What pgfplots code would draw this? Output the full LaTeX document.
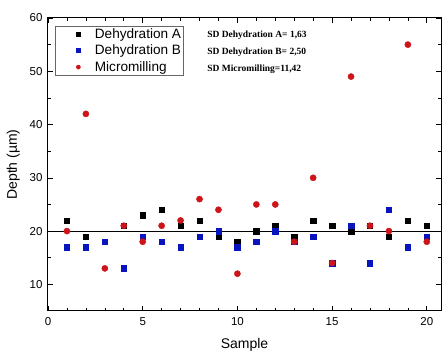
\documentclass[border=0pt]{standalone}
\usepackage{fontspec}
\setmainfont{Liberation Sans}
\newfontfamily\timesfont{Liberation Serif}
\usepackage{pgfplots}
\pgfplotsset{compat=1.18}
\definecolor{dblue}{RGB}{10,20,190}
\definecolor{dred}{RGB}{205,20,25}
\begin{document}
\begin{tikzpicture}
\begin{axis}[
  scale only axis,
  width=393pt, height=293pt,
  xmin=0, xmax=20.75, ymin=5, ymax=60,
  xtick={0,5,10,15,20}, ytick={10,20,30,40,50,60},
  minor x tick num=4, minor y tick num=1,
  tick align=inside, tick pos=both,
  major tick length=5pt, minor tick length=3pt,
  every tick/.style={black, line width=0.6pt},
  axis line style={black, line width=1pt},
  /pgf/number format/assume math mode=true,
  ticklabel style={font=\fontsize{11.5}{13}\selectfont},
  xticklabel style={yshift=-3pt},
  yticklabel style={xshift=-2pt},
  xlabel={Sample}, ylabel={Depth (µm)},
  label style={font=\fontsize{14}{16}\selectfont},
  xlabel style={yshift=-6pt},
  ylabel style={yshift=3pt},
  legend style={at={(axis description cs:0.018,0.973)}, anchor=north west,
    draw=gray!80!black, line width=0.6pt, font=\fontsize{13.6}{15}\selectfont,
    inner sep=1pt, row sep=2pt, nodes={inner sep=1.5pt}},
  legend image code/.code={\path[draw=none,fill=none] (0pt,0pt) rectangle (37pt,0pt);
     \draw[#1] plot coordinates {(22pt,0pt)};},
  legend image post style={mark size=2pt},
  legend cell align=left,
  clip=true,
]
\addplot[black, line width=1pt, forget plot] coordinates {(0,20) (20.75,20)};
\addplot[only marks, mark=square*, mark size=2.7pt, mark options={fill=black, draw=black}] coordinates {
(1,22) (2,19) (3,18) (4,21) (5,23) (6,24) (7,21) (8,22) (9,19) (10,18)
(11,20) (12,21) (13,19) (14,22) (15,21) (16,20) (17,21) (18,19) (19,22) (20,21)};
\addlegendentry{Dehydration A}
\addplot[only marks, mark=square*, mark size=2.7pt, mark options={fill=dblue, draw=dblue}] coordinates {
(1,17) (2,17) (3,18) (4,13) (5,19) (6,18) (7,17) (8,19) (9,20) (10,17)
(11,18) (12,20) (13,18) (14,19) (15,14) (16,21) (17,14) (18,24) (19,17) (20,19)};
\addlegendentry{Dehydration B}
\addplot[only marks, mark=*, mark size=3.1pt, mark options={fill=dred, draw=dred}] coordinates {
(1,20) (2,42) (3,13) (4,21) (5,18) (6,21) (7,22) (8,26) (9,24) (10,12)
(11,25) (12,25) (13,18) (14,30) (15,14) (16,49) (17,21) (18,20) (19,55) (20,18)};
\addlegendentry{Micromilling}
\node[anchor=west, font=\timesfont\bfseries\fontsize{9.5}{11}\selectfont, inner sep=0pt] at (axis cs:8.4,56.7) {SD Dehydration A= 1,63};
\node[anchor=west, font=\timesfont\bfseries\fontsize{9.5}{11}\selectfont, inner sep=0pt] at (axis cs:8.4,53.5) {SD Dehydration B= 2,50};
\node[anchor=west, font=\timesfont\bfseries\fontsize{9.5}{11}\selectfont, inner sep=0pt] at (axis cs:8.4,50.3) {SD Micromilling=11,42};
\coordinate (bl) at (rel axis cs:0,0);
\coordinate (tr) at (rel axis cs:1,1);
\end{axis}
\pgfresetboundingbox
\path ([xshift=-48pt,yshift=-42pt]bl) rectangle ([xshift=1pt,yshift=18pt]tr);
\end{tikzpicture}
\end{document}
